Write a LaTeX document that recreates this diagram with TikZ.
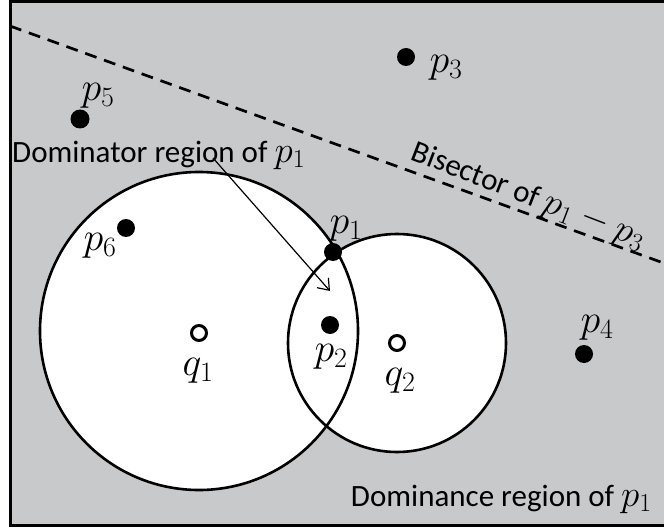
\RequirePackage{fix-cm}
\documentclass[tikz,border=0pt]{standalone}
\usepackage{fontspec}
\setmainfont{Carlito}
\usetikzlibrary{arrows.meta}
\newcommand{\mymath}[1]{{\fontsize{37}{44}\selectfont$#1$}}
\begin{document}
\begin{tikzpicture}[x=1pt,y=-1pt,
  dot/.style={circle,fill=black,inner sep=0pt,minimum size=18pt},
  hollow/.style={circle,draw=black,line width=3pt,fill=white,inner sep=0pt,minimum size=15pt},
  lbl/.style={inner sep=0pt,font=\fontsize{31}{36}\selectfont},
  mlbl/.style={inner sep=0pt,font=\fontsize{40}{46}\selectfont}]
\useasboundingbox (0,0) rectangle (664,532);
\clip (0,0) rectangle (664,532);
\fill[white] (0,0) rectangle (664,532);
% frame
\draw[line width=3pt,fill={rgb,255:red,200;green,201;blue,203}] (10.5,1.5) rectangle (680,525.5);
% circles
\fill[white] (199,331) circle[radius=159];
\fill[white] (397,343) circle[radius=109];
\draw[line width=2.6pt] (199,331) circle[radius=159];
\draw[line width=2.6pt] (397,343) circle[radius=109];
% bisector
\coordinate (bA) at (10,26);
\coordinate (bB) at (680,269);
\draw[line width=2.7pt,dash pattern=on 12pt off 8pt] (bA) -- (bB);
\node[lbl,rotate=-21] (bis) at (528,197) {Bisector of \mymath{p_1-p_3}};
% points
\node[dot] (p1) at (333,252) {};
\node[dot] (p2) at (330,325) {};
\node[dot] (p3) at (406,57) {};
\node[dot] (p4) at (584,354) {};
\node[circle,fill=black,inner sep=0pt,minimum width=15pt,minimum height=19pt] (p5) at (80,119) {};
\node[dot] (p6) at (126,228) {};
\node[hollow] (q1) at (199,333) {};
\node[hollow] (q2) at (397,343) {};
% labels
\node[mlbl] (lp1) at (346,229) {$p_1$};
\node[mlbl] (lp2) at (331,357) {$p_2$};
\node[mlbl] (lp3) at (446,68) {$p_3$};
\node[mlbl] (lp4) at (597,328) {$p_4$};
\node[mlbl] (lp5) at (98,96) {$p_5$};
\node[mlbl] (lp6) at (100,246) {$p_6$};
\node[mlbl] (lq1) at (198,371) {$q_1$};
\node[mlbl] (lq2) at (400,381) {$q_2$};
\node[lbl,anchor=west] (dom) at (12,155) {Dominator region of \mymath{p_1}};
\node[lbl,anchor=east] (dce) at (652,499) {Dominance region of \mymath{p_1}};
% arrow
\coordinate (aS) at (213,158);
\coordinate (aE) at (330,291);
\draw[line width=1.2pt,-{Straight Barb[length=10pt,width=15pt]}] (aS) -- (aE);
\end{tikzpicture}
\end{document}
